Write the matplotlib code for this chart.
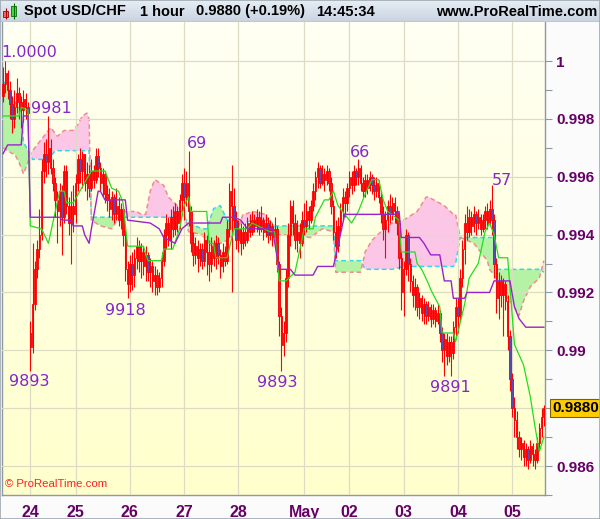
import numpy as np
import matplotlib
matplotlib.use('Agg')
import matplotlib.pyplot as plt
from matplotlib.patches import Rectangle
from matplotlib.ticker import FixedLocator, FuncFormatter

# hourly USD/CHF candles, values in pips (1/10000)
opens = [
    9988, 9992, 9996, 9990, 9985, 9980, 9984, 9989, 9986, 9983, 9987, 9984,
    9906, 9901, 9916, 9928, 9935, 9940, 9962, 9968, 9965, 9970, 9963, 9958,
    9952, 9948, 9955, 9946, 9962, 9950, 9944, 9950, 9947, 9958, 9966, 9962,
    9968, 9958, 9961, 9956, 9962, 9959, 9967, 9963, 9958, 9961, 9954, 9952,
    9949, 9953, 9947, 9950, 9945, 9949, 9940, 9928, 9923, 9930, 9926, 9932,
    9936, 9931, 9934, 9929, 9933, 9927, 9929, 9924, 9926, 9922, 9925, 9931,
    9940, 9944, 9938, 9946, 9942, 9948, 9944, 9952, 9958, 9953, 9958, 9948,
    9937, 9933, 9936, 9932, 9935, 9931, 9938, 9934, 9930, 9936, 9932, 9937,
    9933, 9929, 9934, 9931, 9942, 9955, 9950, 9945, 9938, 9942, 9937, 9941,
    9938, 9944, 9941, 9945, 9943, 9946, 9942, 9945, 9941, 9944, 9940, 9943,
    9939, 9942, 9930, 9912, 9902, 9906, 9925, 9940, 9950, 9944, 9938, 9941,
    9937, 9945, 9943, 9948, 9945, 9950, 9955, 9960, 9963, 9958, 9961, 9959,
    9962, 9958, 9950, 9941, 9936, 9943, 9948, 9953, 9951, 9956, 9960, 9957,
    9962, 9960, 9963, 9958, 9955, 9959, 9956, 9960, 9957, 9955, 9958, 9953,
    9947, 9942, 9945, 9950, 9947, 9951, 9948, 9944, 9932, 9920, 9928, 9940,
    9930, 9924, 9919, 9922, 9915, 9918, 9913, 9916, 9912, 9915, 9911, 9914,
    9910, 9913, 9906, 9900, 9904, 9898, 9903, 9899, 9908, 9915, 9912, 9925,
    9935, 9944, 9941, 9946, 9943, 9947, 9944, 9946, 9942, 9945, 9948, 9944,
    9949, 9945, 9930, 9918, 9924, 9919, 9923, 9917, 9905, 9890, 9880, 9876,
    9870, 9866, 9868, 9863, 9866, 9862, 9867, 9864, 9862, 9868, 9873, 9877,
]
highs = [
    9998, 10000, 9997, 9993, 9988, 9990, 9994, 9991, 9988, 9990, 9989, 9986,
    9910, 9937, 9931, 9938, 9949, 9966, 9972, 9973, 9981, 9973, 9966, 9960,
    9955, 9958, 9957, 9964, 9964, 9953, 9955, 9957, 9961, 9968, 9970, 9969,
    9968, 9965, 9964, 9966, 9964, 9970, 9970, 9965, 9963, 9962, 9957, 9956,
    9955, 9954, 9956, 9953, 9951, 9950, 9942, 9931, 9933, 9934, 9935, 9939,
    9938, 9937, 9936, 9936, 9934, 9932, 9931, 9929, 9928, 9927, 9934, 9942,
    9947, 9946, 9949, 9950, 9951, 9950, 9954, 9961, 9963, 9962, 9969, 9950,
    9941, 9939, 9938, 9937, 9937, 9941, 9940, 9938, 9939, 9938, 9940, 9939,
    9935, 9937, 9936, 9945, 9958, 9964, 9956, 9948, 9945, 9944, 9943, 9944,
    9946, 9947, 9948, 9947, 9949, 9948, 9950, 9946, 9947, 9946, 9945, 9944,
    9946, 9943, 9931, 9915, 9910, 9928, 9944, 9952, 9952, 9947, 9945, 9944,
    9948, 9951, 9952, 9950, 9952, 9958, 9962, 9965, 9964, 9964, 9963, 9964,
    9963, 9960, 9952, 9945, 9946, 9951, 9956, 9955, 9958, 9962, 9962, 9964,
    9963, 9966, 9964, 9960, 9961, 9961, 9962, 9961, 9960, 9960, 9959, 9955,
    9950, 9948, 9952, 9954, 9953, 9953, 9950, 9946, 9934, 9931, 9942, 9941,
    9932, 9926, 9925, 9923, 9920, 9919, 9918, 9917, 9917, 9916, 9916, 9915,
    9916, 9914, 9908, 9906, 9906, 9905, 9905, 9910, 9918, 9918, 9928, 9938,
    9947, 9950, 9949, 9948, 9950, 9948, 9949, 9947, 9947, 9950, 9951, 9952,
    9957, 9947, 9932, 9927, 9926, 9925, 9924, 9919, 9907, 9892, 9884, 9879,
    9872, 9870, 9869, 9868, 9867, 9869, 9868, 9866, 9870, 9875, 9880, 9881,
]
lows = [
    9986, 9989, 9987, 9980, 9975, 9977, 9982, 9980, 9977, 9979, 9980, 9977,
    9893, 9899, 9914, 9925, 9932, 9938, 9958, 9960, 9961, 9961, 9955, 9946,
    9937, 9943, 9933, 9944, 9947, 9940, 9930, 9941, 9944, 9955, 9958, 9956,
    9955, 9952, 9953, 9955, 9956, 9958, 9960, 9955, 9953, 9951, 9948, 9946,
    9945, 9944, 9945, 9943, 9942, 9936, 9924, 9918, 9920, 9921, 9922, 9928,
    9927, 9925, 9926, 9924, 9924, 9922, 9920, 9919, 9919, 9920, 9922, 9929,
    9935, 9936, 9935, 9939, 9940, 9941, 9942, 9948, 9945, 9950, 9943, 9934,
    9929, 9930, 9927, 9929, 9928, 9929, 9926, 9924, 9927, 9929, 9928, 9930,
    9925, 9927, 9929, 9930, 9939, 9920, 9942, 9935, 9934, 9933, 9935, 9936,
    9937, 9939, 9940, 9941, 9941, 9940, 9941, 9938, 9939, 9937, 9938, 9936,
    9937, 9927, 9905, 9893, 9898, 9903, 9922, 9936, 9940, 9935, 9934, 9932,
    9936, 9940, 9941, 9942, 9944, 9948, 9952, 9956, 9956, 9957, 9955, 9957,
    9955, 9947, 9938, 9932, 9934, 9940, 9945, 9946, 9948, 9953, 9954, 9955,
    9957, 9957, 9955, 9953, 9953, 9954, 9955, 9954, 9952, 9953, 9951, 9944,
    9938, 9932, 9941, 9944, 9945, 9944, 9940, 9928, 9914, 9912, 9926, 9924,
    9920, 9915, 9914, 9912, 9911, 9910, 9909, 9909, 9910, 9908, 9909, 9908,
    9909, 9903, 9896, 9891, 9895, 9896, 9891, 9897, 9905, 9906, 9910, 9922,
    9930, 9938, 9939, 9940, 9941, 9940, 9942, 9940, 9941, 9942, 9942, 9943,
    9940, 9925, 9913, 9911, 9915, 9905, 9914, 9900, 9886, 9877, 9870, 9866,
    9863, 9862, 9860, 9860, 9859, 9861, 9860, 9859, 9861, 9866, 9870, 9874,
]
closes = [
    9992, 9996, 9990, 9985, 9980, 9984, 9989, 9986, 9983, 9987, 9984, 9982,
    9901, 9916, 9928, 9935, 9940, 9962, 9968, 9965, 9970, 9963, 9958, 9952,
    9948, 9955, 9946, 9962, 9950, 9944, 9950, 9947, 9958, 9966, 9962, 9968,
    9958, 9961, 9956, 9962, 9959, 9967, 9963, 9958, 9961, 9954, 9952, 9949,
    9953, 9947, 9950, 9945, 9949, 9940, 9928, 9923, 9930, 9926, 9932, 9936,
    9931, 9934, 9929, 9933, 9927, 9929, 9924, 9926, 9922, 9925, 9931, 9940,
    9944, 9938, 9946, 9942, 9948, 9944, 9952, 9958, 9953, 9958, 9948, 9937,
    9933, 9936, 9932, 9935, 9931, 9938, 9934, 9930, 9936, 9932, 9937, 9933,
    9929, 9934, 9931, 9942, 9955, 9950, 9945, 9938, 9942, 9937, 9941, 9938,
    9944, 9941, 9945, 9943, 9946, 9942, 9945, 9941, 9944, 9940, 9943, 9939,
    9942, 9930, 9912, 9902, 9906, 9925, 9940, 9950, 9944, 9938, 9941, 9937,
    9945, 9943, 9948, 9945, 9950, 9955, 9960, 9963, 9958, 9961, 9959, 9962,
    9958, 9950, 9941, 9936, 9943, 9948, 9953, 9951, 9956, 9960, 9957, 9962,
    9960, 9963, 9958, 9955, 9959, 9956, 9960, 9957, 9955, 9958, 9953, 9947,
    9942, 9945, 9950, 9947, 9951, 9948, 9944, 9932, 9920, 9928, 9940, 9930,
    9924, 9919, 9922, 9915, 9918, 9913, 9916, 9912, 9915, 9911, 9914, 9910,
    9913, 9906, 9900, 9904, 9898, 9903, 9899, 9908, 9915, 9912, 9925, 9935,
    9944, 9941, 9946, 9943, 9947, 9944, 9946, 9942, 9945, 9948, 9944, 9949,
    9945, 9930, 9918, 9924, 9919, 9923, 9917, 9905, 9890, 9880, 9876, 9870,
    9866, 9868, 9863, 9866, 9862, 9867, 9864, 9862, 9868, 9873, 9877, 9880,
]

# Ichimoku lines (bar index, pips)
tenkan_bar = [0, 7, 8, 11, 12, 17, 20, 25, 27, 28, 31, 39, 45, 48, 51, 53, 55, 62, 64, 70,
              71, 75, 78, 80, 82, 83, 90, 91, 93, 94, 99, 102, 108, 110, 118, 120, 122, 125,
              129, 132, 133, 137, 138, 142, 144, 146, 148, 154, 157, 160, 163, 166, 168,
              170, 175, 176, 182, 183, 185, 188, 189, 193, 194, 199, 200, 204, 206, 210,
              213, 215, 217, 219, 223, 226, 230, 233, 235, 237, 239]
tenkan_val = [9981, 9981, 9984, 9983, 9943, 9942, 9937, 9955, 9955, 9951, 9951, 9962, 9962,
              9956, 9955, 9951, 9936, 9936, 9931, 9931, 9935, 9935, 9942, 9950, 9953, 9948,
              9948, 9937, 9937, 9932, 9932, 9942, 9942, 9944, 9941, 9941, 9924, 9924, 9927,
              9938, 9942, 9942, 9946, 9952, 9952, 9955, 9950, 9944, 9948, 9954, 9959, 9959,
              9952, 9948, 9945, 9934, 9934, 9930, 9928, 9923, 9921, 9915, 9906, 9906, 9903,
              9916, 9925, 9930, 9941, 9944, 9940, 9932, 9932, 9902, 9895, 9884, 9874, 9865,
              9870]

kijun_bar = [0, 2, 8, 9, 11, 12, 25, 26, 30, 31, 35, 36, 38, 39, 42, 43, 45, 54, 55, 65, 69,
             71, 76, 79, 82, 96, 97, 102, 105, 108, 119, 122, 127, 129, 137, 139, 146, 151,
             173, 175, 176, 184, 186, 189, 193, 195, 198, 199, 204, 205, 215, 217, 224, 226,
             228, 231, 239]
kijun_val = [9968, 9971, 9971, 9981, 9981, 9946, 9946, 9945, 9945, 9943, 9943, 9940, 9937,
             9942, 9955, 9955, 9952, 9952, 9945, 9944, 9942, 9939, 9937, 9942, 9944, 9944,
             9946, 9946, 9945, 9942, 9942, 9928, 9928, 9926, 9926, 9929, 9929, 9947, 9947,
             9948, 9939, 9939, 9937, 9933, 9933, 9924, 9924, 9918, 9918, 9920, 9920, 9924,
             9924, 9915, 9911, 9908, 9908]

cloud_bar = [0, 2, 4, 5, 7, 8, 9, 11, 12, 13, 17, 18, 19, 21, 23, 24, 27, 31, 33, 35, 37, 38,
             39, 43, 48, 51, 54, 59, 61, 63, 65, 67, 71, 73, 77, 80, 82, 88, 90, 93, 96, 99,
             102, 103, 106, 107, 110, 116, 117, 119, 120, 123, 136, 141, 146, 147, 158, 160,
             163, 167, 172, 177, 183, 187, 188, 195, 199, 200, 202, 208, 214, 215, 217, 218,
             221, 226, 228, 230, 233, 237, 239]
span_a = [9993, 9991, 9987, 9986, 9984, 9983, 9972, 9969, 9968, 9966, 9966, 9966, 9966, 9967,
          9969, 9969, 9969, 9969, 9969, 9969, 9969, 9969, 9946, 9946, 9946, 9946, 9946, 9946,
          9946, 9946, 9946, 9946, 9946, 9946, 9946, 9946, 9944, 9942, 9942, 9949, 9950, 9945,
          9945, 9945, 9944, 9944, 9945, 9945, 9945, 9944, 9943, 9943, 9943, 9943, 9943, 9931,
          9931, 9928, 9928, 9928, 9928, 9929, 9929, 9929, 9929, 9929, 9929, 9930, 9939, 9939,
          9939, 9939, 9939, 9928, 9928, 9928, 9928, 9928, 9928, 9928, 9927]
span_b = [9970, 9969, 9968, 9968, 9965, 9963, 9961, 9965, 9968, 9969, 9973, 9974, 9975, 9977,
          9975, 9974, 9976, 9976, 9978, 9981, 9982, 9980, 9945, 9943, 9942, 9946, 9948, 9948,
          9947, 9947, 9955, 9959, 9957, 9953, 9950, 9947, 9941, 9940, 9937, 9936, 9937, 9938,
          9940, 9940, 9947, 9947, 9948, 9947, 9945, 9940, 9940, 9940, 9939, 9942, 9941, 9927,
          9927, 9934, 9938, 9941, 9944, 9945, 9948, 9953, 9953, 9950, 9947, 9947, 9939, 9937,
          9931, 9928, 9926, 9925, 9920, 9915, 9912, 9917, 9922, 9925, 9931]

# swing high / low labels: text, bar, price in pips
swing_text = ['1.0000', '9893', '9981', '9918', '69', '9893', '66', '9891', '57']
swing_bar = [1, 12, 20, 55, 82, 123, 157, 195, 216]
swing_pips = [10000, 9893, 9981, 9918, 9969, 9893, 9966, 9891, 9957]
# label offsets in pixels
swing_dx = [24, -1, 3, -2, 8, -4, 2, 6, 10]
swing_dy = [9, -11, 7, -12, 7, -12, 7, -11, 5]

day_bars = [12, 32, 56, 80, 104, 133, 153, 177, 201, 225]
day_labels = ['24', '25', '26', '27', '28', 'May', '02', '03', '04', '05']

o = np.array(opens) / 10000
h = np.array(highs) / 10000
l = np.array(lows) / 10000
c = np.array(closes) / 10000
bars = np.arange(len(c))

purple_txt = '#660066'

fig = plt.figure(figsize=(6.0, 5.19), dpi=100)
fig.patch.set_facecolor('#fbfbfb')

ax = fig.add_axes([2 / 600, 24 / 519, 543 / 600, 473 / 519])
ymin, ymax = 0.98500, 1.001348
xmin, xmax = -0.5, 239.5

# yellow gradient background
grad = np.linspace(0, 1, 256)[:, None]
top = np.array([1.0, 1.0, 0.955])
bot = np.array([1.0, 1.0, 0.80])
bg = (top + (bot - top) * grad)[:, None, :]
ax.imshow(bg, extent=[xmin, xmax, ymin, ymax], aspect='auto', origin='upper', zorder=0)

# cloud
ca = np.array(span_a) / 10000
cb = np.array(span_b) / 10000
ax.fill_between(cloud_bar, ca, cb, where=ca >= cb, interpolate=True,
                color='#b4f2a4', lw=0, zorder=1)
ax.fill_between(cloud_bar, ca, cb, where=ca < cb, interpolate=True,
                color='#fcc6e6', lw=0, zorder=1)
ax.plot(cloud_bar, ca, color='#30d8ee', lw=1.1, ls=(0, (3, 2)), zorder=2)
ax.plot(cloud_bar, cb, color='#f08c8c', lw=1.1, ls=(0, (3, 2)), zorder=2)

# candles
ax.vlines(bars, l, h, colors='#ff0000', lw=0.8, zorder=3)
body_lo = np.minimum(o, c)
body_h = np.maximum(np.abs(c - o), 0.00002)
fills = ['#5a4cb4' if cc < oo else 'none' for oo, cc in zip(o, c)]
ax.bar(bars, body_h, bottom=body_lo, width=0.65, color=fills,
       edgecolor='#ff0000', linewidth=0.65, zorder=3.5)

# tenkan / kijun
ax.plot(tenkan_bar, np.array(tenkan_val) / 10000, color='#22dd22', lw=0.9, zorder=4)
ax.plot(kijun_bar, np.array(kijun_val) / 10000, color='#9a22cc', lw=1.0, zorder=4)

# swing labels
for t, b, p, dx, dy in zip(swing_text, swing_bar, swing_pips, swing_dx, swing_dy):
    ax.annotate(t, (b, p / 10000), xytext=(dx, dy), textcoords='offset pixels',
                ha='center', va='center', fontsize=11.5, color='#8526c8',
                family='DejaVu Sans', zorder=6, annotation_clip=False)

ax.set_xlim(xmin, xmax)
ax.set_ylim(ymin, ymax)

# grid and axes
ax.yaxis.tick_right()
ax.yaxis.set_major_locator(FixedLocator(np.arange(0.986, 1.0005, 0.002)))
ax.yaxis.set_minor_locator(FixedLocator(np.arange(0.985, 1.0005, 0.001)))


def fmt(v, pos):
    v = round(v, 3)
    if abs(v - 0.988) < 1e-6:
        return ''
    return f'{v:g}'


ax.yaxis.set_major_formatter(FuncFormatter(fmt))
ax.tick_params(axis='y', which='both', direction='out', color='#8c98a4',
               length=5, width=0.8, pad=3, labelsize=11, labelcolor=purple_txt)
ax.set_xticks(day_bars)
ax.set_xticklabels(day_labels)
ax.tick_params(axis='x', length=0, pad=7, labelsize=11.5, labelcolor=purple_txt)
for lab in ax.get_yticklabels() + ax.get_xticklabels():
    lab.set_fontweight('bold')
    lab.set_family('Liberation Sans')
ax.grid(True, which='major', color='#dcdcc4', lw=0.9, zorder=0.5)
ax.set_axisbelow(False)
for gl in ax.get_xgridlines() + ax.get_ygridlines():
    gl.set_zorder(0.5)

ax.spines['top'].set_visible(False)
for side in ['left', 'right', 'bottom']:
    ax.spines[side].set_color('#8c98a4')
    ax.spines[side].set_linewidth(1.0)

# last price box
ax.text(1.013, closes[-1] / 10000, f'{closes[-1] / 10000:.4f}', transform=ax.get_yaxis_transform(),
        ha='left', va='center', fontsize=11, fontweight='bold', family='Liberation Sans',
        color='black', zorder=7, clip_on=False,
        bbox=dict(boxstyle='square,pad=0.15', fc='#ffcc00', ec='#7a6000', lw=0.8))

# watermark
ax.text(0.006, 0.013, '\u00a9 ProRealTime.com', transform=ax.transAxes, ha='left', va='bottom',
        fontsize=8.2, color='#ff2020', family='Liberation Sans', zorder=7)

# title bar
tb = fig.add_axes([0, 497 / 519, 1, 22 / 519])
tgrad = np.linspace(0, 1, 22)[:, None]
ttop = np.array([0.90, 0.93, 0.96])
tbot = np.array([0.79, 0.83, 0.88])
tb.imshow((ttop + (tbot - ttop) * tgrad)[:, None, :], extent=[0, 600, 22, 0], aspect='auto')
tb.set_xlim(0, 600)
tb.set_ylim(22, 0)
tb.axis('off')
tb.plot([0, 600], [21.5, 21.5], color='#8c98a4', lw=1)
tb.vlines([5.5, 13.5], [8, 3], [19, 19], colors=['#b00000', '#007000'], lw=0.8)
tb.add_patch(Rectangle((3, 11), 5, 6, fc='#f06868', ec='#a00000', lw=0.6))
tb.add_patch(Rectangle((11, 6), 5, 10, fc='#44d844', ec='#007000', lw=0.6))
title_kw = dict(va='center', fontsize=10.5, fontweight='bold', family='Liberation Sans', color='black')
tb.text(24, 11.5, 'Spot USD/CHF', **title_kw)
tb.text(140, 11.5, '1 hour', **title_kw)
tb.text(196, 11.5, '0.9880 (+0.19%)', **title_kw)
tb.text(316, 11.5, '14:45:34', **title_kw)
tb.text(597, 11.5, 'www.ProRealTime.com', ha='right', **title_kw)

# thin outer frame
fig.add_artist(Rectangle((0, 0), 1, 1, transform=fig.transFigure, fill=False,
                         ec='#a0a8b0', lw=1.2))

fig.savefig('out.png', dpi=100, facecolor=fig.get_facecolor())
